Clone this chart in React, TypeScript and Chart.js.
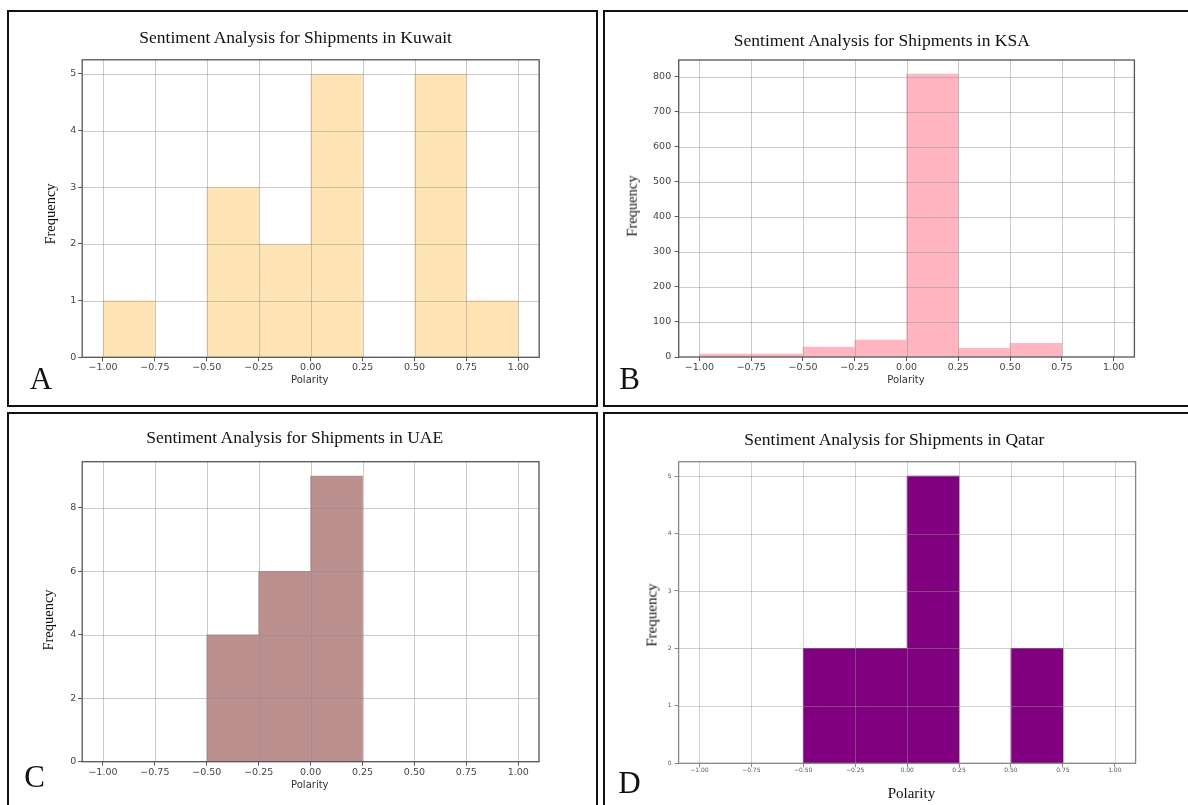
import React, { useEffect, useRef } from "react";
import { Chart, registerables } from "chart.js";

Chart.register(...registerables);

// ---- data ----
const binLeftEdges = [-1.0, -0.75, -0.5, -0.25, 0.0, 0.25, 0.5, 0.75];
const binWidth = 0.25;
const polarityTicks = [-1.0, -0.75, -0.5, -0.25, 0.0, 0.25, 0.5, 0.75, 1.0];

const kuwaitCounts = [1, 0, 3, 2, 5, 0, 5, 1];
const ksaCounts = [8, 8, 28, 48, 808, 25, 39, 0];
const uaeCounts = [0, 0, 4, 6, 9, 0, 0, 0];
const qatarCounts = [0, 0, 2, 2, 5, 0, 2, 0];

const kuwaitYTicks = [0, 1, 2, 3, 4, 5];
const ksaYTicks = [0, 100, 200, 300, 400, 500, 600, 700, 800];
const uaeYTicks = [0, 2, 4, 6, 8];
const qatarYTicks = [0, 1, 2, 3, 4, 5];

const countries = ["Kuwait", "KSA", "UAE", "Qatar"];
const panelLetters = ["A", "B", "C", "D"];

// ---- layout ----
const W = 1188;
const H = 805;

type Area = { l: number; r: number; t: number; b: number };
type Spec = {
  counts: number[];
  yTicks: number[];
  color: string;
  area: Area;
  tickFont: number;
  tickColor: string;
  gridColor: string;
  frameColor: string;
  yPad: number;
  xPad: number;
};

const specs: Spec[] = [
  {
    counts: kuwaitCounts, yTicks: kuwaitYTicks, color: "#FFE4B5",
    area: { l: 82.2, r: 539.2, t: 59.8, b: 357.3 },
    tickFont: 9.5, tickColor: "#444", gridColor: "rgba(140,140,140,0.45)", frameColor: "#555", yPad: 2, xPad: 1,
  },
  {
    counts: ksaCounts, yTicks: ksaYTicks, color: "#FFB6C1",
    area: { l: 678.7, r: 1134.4, t: 60, b: 357 },
    tickFont: 9.5, tickColor: "#444", gridColor: "rgba(140,140,140,0.45)", frameColor: "#555", yPad: 3.5, xPad: 1,
  },
  {
    counts: uaeCounts, yTicks: uaeYTicks, color: "#BC8F8F",
    area: { l: 82.2, r: 539, t: 461.7, b: 761.7 },
    tickFont: 9.5, tickColor: "#444", gridColor: "rgba(140,140,140,0.45)", frameColor: "#555", yPad: 2, xPad: 1,
  },
  {
    counts: qatarCounts, yTicks: qatarYTicks, color: "#800080",
    area: { l: 678.6, r: 1135.6, t: 461.7, b: 763.3 },
    tickFont: 6, tickColor: "#555", gridColor: "rgba(150,150,150,0.45)", frameColor: "#888", yPad: 3, xPad: 0,
  },
];

const fmtPolarity = (v: number) => (v < 0 ? "\u2212" : "") + Math.abs(v).toFixed(2);

const gridOnTop = {
  id: "gridOnTop",
  afterDatasetsDraw(chart: any, _args: any, opts: any) {
    const { ctx, chartArea: a, scales } = chart;
    const x = scales.x;
    const y = scales.y;
    ctx.save();
    ctx.beginPath();
    ctx.rect(a.left, a.top, a.right - a.left, a.bottom - a.top);
    ctx.clip();
    ctx.strokeStyle = opts.color;
    ctx.lineWidth = 1;
    for (const t of x.ticks) {
      const px = Math.round(x.getPixelForValue(t.value)) + 0.5;
      ctx.beginPath();
      ctx.moveTo(px, a.top);
      ctx.lineTo(px, a.bottom);
      ctx.stroke();
    }
    for (const t of y.ticks) {
      const py = Math.round(y.getPixelForValue(t.value)) + 0.5;
      ctx.beginPath();
      ctx.moveTo(a.left, py);
      ctx.lineTo(a.right, py);
      ctx.stroke();
    }
    ctx.restore();
    ctx.save();
    ctx.strokeStyle = opts.frameColor;
    ctx.lineWidth = 1.3;
    ctx.strokeRect(a.left, a.top, a.right - a.left, a.bottom - a.top);
    ctx.restore();
  },
};

function HistChart({ spec }: { spec: Spec }) {
  const ref = useRef<HTMLCanvasElement>(null);
  useEffect(() => {
    const yAxisW = 40;
    const xAxisH = 30;
    const { l, r, t, b } = spec.area;
    const tickFont = { family: "DejaVu Sans", size: spec.tickFont };
    const chart = new Chart(ref.current as HTMLCanvasElement, {
      type: "bar",
      data: {
        datasets: [
          {
            data: binLeftEdges.map((e, i) => ({ x: e + binWidth / 2, y: spec.counts[i] })),
            backgroundColor: spec.color,
            borderWidth: 0,
            barPercentage: 1,
            categoryPercentage: 1,
          } as any,
        ],
      },
      options: {
        responsive: false,
        animation: false,
        events: [],
        layout: { padding: { left: l - yAxisW, top: t, right: W - r, bottom: H - b - xAxisH } },
        plugins: {
          legend: { display: false },
          tooltip: { enabled: false },
          title: { display: false },
          gridOnTop: { color: spec.gridColor, frameColor: spec.frameColor },
        } as any,
        scales: {
          x: {
            type: "linear",
            min: -1.1,
            max: 1.1,
            offset: false,
            afterBuildTicks: (s: any) => {
              s.ticks = polarityTicks.map((v) => ({ value: v }));
            },
            afterFit: (s: any) => {
              s.height = xAxisH;
            },
            ticks: {
              autoSkip: false,
              maxRotation: 0,
              padding: spec.xPad,
              color: spec.tickColor,
              font: tickFont,
              callback: (v: any) => fmtPolarity(Number(v)),
            },
            grid: { display: true, drawOnChartArea: false, drawTicks: true, tickLength: 4, tickColor: spec.frameColor, offset: false },
            border: { display: false },
          },
          y: {
            type: "linear",
            min: 0,
            max: Math.max(...spec.counts) * 1.05,
            afterBuildTicks: (s: any) => {
              s.ticks = spec.yTicks.map((v) => ({ value: v }));
            },
            afterFit: (s: any) => {
              s.width = yAxisW;
            },
            ticks: {
              autoSkip: false,
              padding: spec.yPad,
              color: spec.tickColor,
              font: tickFont,
              callback: (v: any) => String(v),
            },
            grid: { display: true, drawOnChartArea: false, drawTicks: true, tickLength: 4, tickColor: spec.frameColor },
            border: { display: false },
          },
        },
      } as any,
      plugins: [gridOnTop as any],
    });
    return () => chart.destroy();
  }, [spec]);
  return <canvas ref={ref} width={W} height={H} style={{ position: "absolute", left: 0, top: 0 }} />;
}

type TextSpec = { text: string; x: number; y: number; size: number; family: string; color: string; rotate?: boolean };

const titlePos = [
  { x: 295.6, y: 37.7 },
  { x: 881.8, y: 40.7 },
  { x: 294.7, y: 438.3 },
  { x: 894.3, y: 440 },
];
const freqPos = [
  { x: 49.8, y: 214, s: 14.5 },
  { x: 632, y: 206, s: 14.5 },
  { x: 48, y: 620, s: 14.5 },
  { x: 651.7, y: 614.7, s: 15 },
];
const polPos = [
  { x: 309.8, y: 380, s: 10, f: "DejaVu Sans", c: "#333" },
  { x: 906, y: 380, s: 10, f: "DejaVu Sans", c: "#333" },
  { x: 309.8, y: 785, s: 10, f: "DejaVu Sans", c: "#333" },
  { x: 911.4, y: 793.3, s: 15, f: "Liberation Serif", c: "#111" },
];
const letterPos = [
  { x: 41, y: 378 },
  { x: 629.6, y: 378 },
  { x: 34.5, y: 776 },
  { x: 629.5, y: 781.7 },
];
const borders = [
  { l: 7, t: 10, w: 591, h: 397 },
  { l: 603, t: 10, w: 590, h: 397 },
  { l: 7, t: 412, w: 591, h: 400 },
  { l: 603, t: 412, w: 590, h: 400 },
];

const texts: TextSpec[] = [];
countries.forEach((c, i) => {
  texts.push({ text: `Sentiment Analysis for Shipments in ${c}`, x: titlePos[i].x, y: titlePos[i].y, size: 17.5, family: "Liberation Serif", color: "#111" });
  texts.push({ text: "Frequency", x: freqPos[i].x, y: freqPos[i].y, size: freqPos[i].s, family: "Liberation Serif", color: "#111", rotate: true });
  texts.push({ text: "Polarity", x: polPos[i].x, y: polPos[i].y, size: polPos[i].s, family: polPos[i].f, color: polPos[i].c });
  texts.push({ text: panelLetters[i], x: letterPos[i].x, y: letterPos[i].y, size: 31, family: "Liberation Serif", color: "#111" });
});

export default function App() {
  return (
    <div style={{ position: "absolute", left: 0, top: 0, width: W, height: H, overflow: "hidden", background: "#fff" }}>
      {borders.map((b, i) => (
        <div
          key={"b" + i}
          style={{
            position: "absolute",
            left: b.l,
            top: b.t,
            width: b.w,
            height: b.h,
            border: "2px solid #111",
            boxSizing: "border-box",
          }}
        />
      ))}
      {specs.map((s, i) => (
        <HistChart key={"c" + i} spec={s} />
      ))}
      {texts.map((t, i) => (
        <div
          key={"t" + i}
          style={{
            position: "absolute",
            left: t.x,
            top: t.y,
            transform: `translate(-50%, -50%)${t.rotate ? " rotate(-90deg)" : ""}`,
            fontFamily: t.family,
            fontSize: t.size,
            lineHeight: 1,
            color: t.color,
            whiteSpace: "nowrap",
          }}
        >
          {t.text}
        </div>
      ))}
    </div>
  );
}
